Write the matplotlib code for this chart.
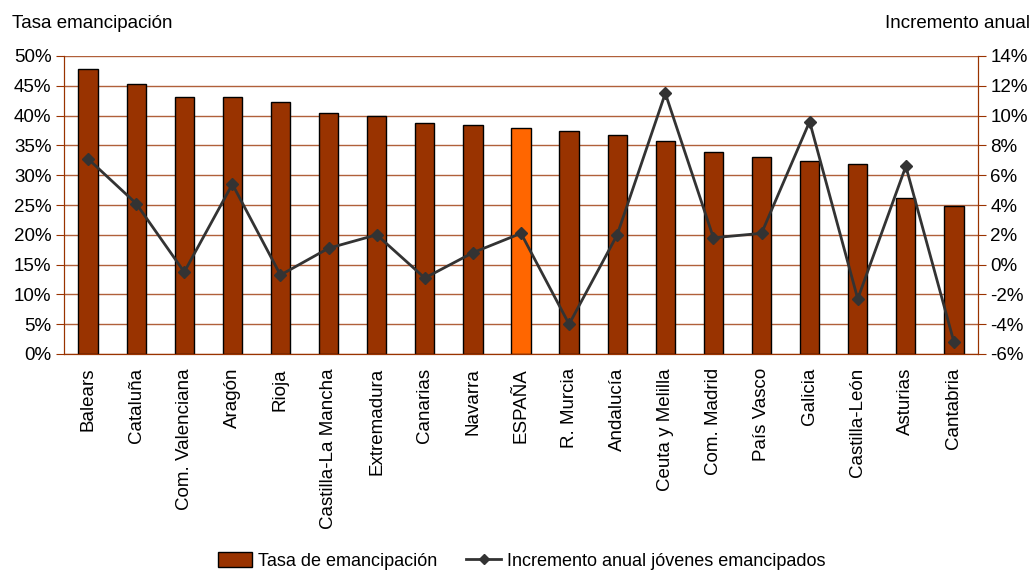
import matplotlib
matplotlib.use("Agg")
import matplotlib.pyplot as plt
from matplotlib.ticker import FuncFormatter
import numpy as np

plt.rcParams['font.family'] = ['Liberation Sans Narrow', 'Liberation Sans', 'DejaVu Sans']

# data
regiones = ["Balears", "Cataluña", "Com. Valenciana", "Aragón", "Rioja",
            "Castilla-La Mancha", "Extremadura", "Canarias", "Navarra", "ESPAÑA",
            "R. Murcia", "Andalucía", "Ceuta y Melilla", "Com. Madrid", "País Vasco",
            "Galicia", "Castilla-León", "Asturias", "Cantabria"]
tasa = [47.8, 45.3, 43.2, 43.1, 42.2, 40.5, 40.0, 38.8, 38.5, 38.0,
        37.5, 36.7, 35.8, 33.9, 33.1, 32.4, 31.9, 26.1, 24.8]
incremento = [7.1, 4.1, -0.5, 5.4, -0.7, 1.1, 2.0, -0.9, 0.8, 2.1,
              -4.0, 2.0, 11.5, 1.8, 2.1, 9.6, -2.3, 6.6, -5.2]

brown = "#993300"
grid_c = "#B0603A"
colores = ["#FF6600" if r == "ESPAÑA" else brown for r in regiones]

fig = plt.figure(figsize=(10.35, 5.7), dpi=100)
ax = fig.add_axes([64/1035, 1-354/570, (978-64)/1035, (354-56)/570])
x = np.arange(len(regiones))

ax.bar(x, tasa, width=0.4, color=colores, edgecolor="black", linewidth=1, zorder=2)
ax.set_ylim(0, 50)
ax.set_xlim(-0.5, len(regiones)-0.5)
ax.set_yticks(np.arange(0, 51, 5))
ax.yaxis.set_major_formatter(FuncFormatter(lambda v, p: f"{v:.0f}%"))
ax.grid(axis="y", color=grid_c, linewidth=1)
ax.set_axisbelow(True)
ax.set_xticks(x)
ax.set_xticklabels(regiones, rotation=90, fontsize=13.5)
ax.tick_params(axis="x", length=0, pad=10)
ax.tick_params(axis="y", labelsize=13.5, length=6, color=brown, pad=3)
ax.spines["top"].set_visible(False)
for s in ["left", "bottom", "right"]:
    ax.spines[s].set_color(brown)

ax2 = ax.twinx()
ax2.plot(x, incremento, color="#333333", linewidth=2, marker="D", markersize=6,
         zorder=3)
ax2.set_ylim(-6, 14)
ax2.set_yticks(np.arange(-6, 15, 2))
ax2.yaxis.set_major_formatter(FuncFormatter(lambda v, p: f"{v:.0f}%"))
ax2.tick_params(axis="y", labelsize=13.5, length=6, color=brown, pad=3)
ax2.spines["top"].set_visible(False)
for s in ["left", "bottom", "right"]:
    ax2.spines[s].set_color(brown)

fig.text(12/1035, 1-23/570, "Tasa emancipación", fontsize=13.5, va="center", ha="left")
fig.text(1030/1035, 1-23/570, "Incremento anual", fontsize=13.5, va="center", ha="right")

h1 = plt.Rectangle((0, 0), 1, 1, facecolor=brown, edgecolor="black", linewidth=1)
h2 = plt.Line2D([], [], color="#333333", linewidth=2, marker="D", markersize=5)
fig.legend([h1, h2], ["Tasa de emancipación", "Incremento anual jóvenes emancipados"],
           loc="center", bbox_to_anchor=(0.504, 1-561/570), ncol=2, frameon=False,
           fontsize=13, handlelength=1.9, handleheight=0.9, handletextpad=0.35,
           columnspacing=1.6)

fig.savefig("out.png", dpi=100)
